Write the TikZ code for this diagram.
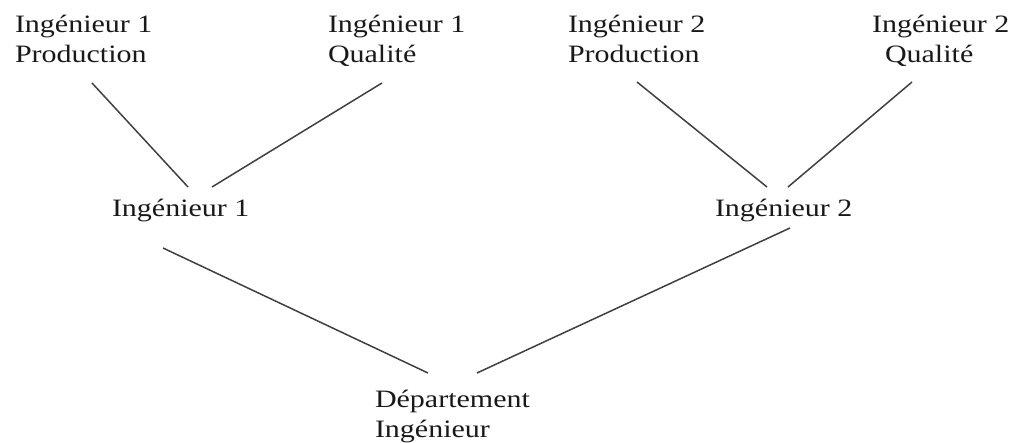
\documentclass[tikz,border=0pt]{standalone}
\usepackage{fontspec}
\setmainfont{Liberation Serif}[FakeStretch=1.2]
\begin{document}
\begin{tikzpicture}[x=1pt,y=-1pt,
  lbl/.style={inner sep=0pt, outer sep=0pt, anchor=base west, align=left,
    font=\fontsize{25}{30}\selectfont, text=black!90},
  link/.style={line width=1.5pt, draw=black!75}]
\useasboundingbox (0,0) rectangle (1009,443);
% leaves (base anchor = baseline of the last line)
\node[lbl] (ip1) at (15,63) {Ingénieur 1\\Production};
\node[lbl] (iq1) at (328,63) {Ingénieur 1\\Qualité};
\node[lbl] (ip2) at (568,63) {Ingénieur 2\\Production};
\node[lbl] (iq2) at (872,63) {Ingénieur 2\\\hspace*{13pt}Qualité};
% middle level
\node[lbl] (i1) at (112,217) {Ingénieur 1};
\node[lbl] (i2) at (715,217) {Ingénieur 2};
% root
\node[lbl] (dep) at (375,437) {Département\\Ingénieur};
% connectors
\draw[link] ([shift={(77,20)}]ip1.base west) -- ([shift={(76,-30)}]i1.base west);
\draw[link] ([shift={(54,20)}]iq1.base west) -- ([shift={(100,-30)}]i1.base west);
\draw[link] ([shift={(69,19)}]ip2.base west) -- ([shift={(52,-30)}]i2.base west);
\draw[link] ([shift={(40,19)}]iq2.base west) -- ([shift={(73,-30)}]i2.base west);
\draw[link] ([shift={(51,31)}]i1.base west) -- ([shift={(53,-64)}]dep.base west);
\draw[link] ([shift={(75,11)}]i2.base west) -- ([shift={(102,-64)}]dep.base west);
\end{tikzpicture}
\end{document}
